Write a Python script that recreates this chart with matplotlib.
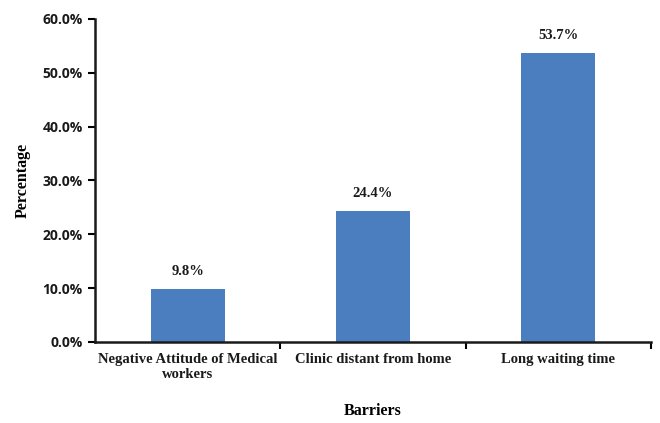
import numpy as np
import matplotlib
matplotlib.use("Agg")
import matplotlib.pyplot as plt
from matplotlib.ticker import FuncFormatter

# Data
barriers = ["Negative Attitude of Medical\nworkers", "Clinic distant from home", "Long waiting time"]
percent = [9.8, 24.4, 53.7]
bar_labels = ["9.8%", "24.4%", "53.7%"]
yticks = [0, 10, 20, 30, 40, 50, 60]

serif = "Liberation Serif"
sans = "Open Sans"

fig = plt.figure(figsize=(6.6, 4.23), dpi=100)
ax = fig.add_axes([0.144, 0.1915, 0.842, 0.764])

x = np.arange(len(barriers))
ax.bar(x, percent, width=0.4, color="#4A7EBF")

for xi, v, lab in zip(x, percent, bar_labels):
    ax.text(xi, v + 2.0, lab, ha="center", va="bottom", fontfamily=serif,
            fontweight="bold", fontsize=10.5, color="#1a1a1a")

ax.set_xlim(-0.5, len(barriers) - 0.5)
ax.set_ylim(0, 60)
ax.set_yticks(yticks)
ax.yaxis.set_major_formatter(FuncFormatter(lambda v, p: f"{v:.1f}%"))
for t in ax.get_yticklabels():
    t.set_fontfamily(sans)
    t.set_fontweight("bold")
    t.set_fontsize(10)
    t.set_color("#1a1a1a")

ax.set_xticks(x)
ax.set_xticklabels(barriers, fontfamily=serif, fontweight="bold", fontsize=10.5, color="#1a1a1a")
ax.tick_params(axis="x", which="major", length=0, pad=8)
ax.set_xticks(np.arange(0.5, len(barriers), 1.0), minor=True)
ax.tick_params(axis="x", which="minor", length=5, width=1.5, direction="out")
ax.tick_params(axis="y", length=5, width=1.5, direction="out", pad=4)

for s in ["top", "right"]:
    ax.spines[s].set_visible(False)
for s in ["left", "bottom"]:
    ax.spines[s].set_linewidth(1.8)
    ax.spines[s].set_color("#1a1a1a")

ax.set_ylabel("Percentage", fontfamily=serif, fontweight="bold", fontsize=11.5, labelpad=8)
ax.set_xlabel("Barriers", fontfamily=serif, fontweight="bold", fontsize=11.5, labelpad=16)

fig.savefig("out.png", dpi=100)
